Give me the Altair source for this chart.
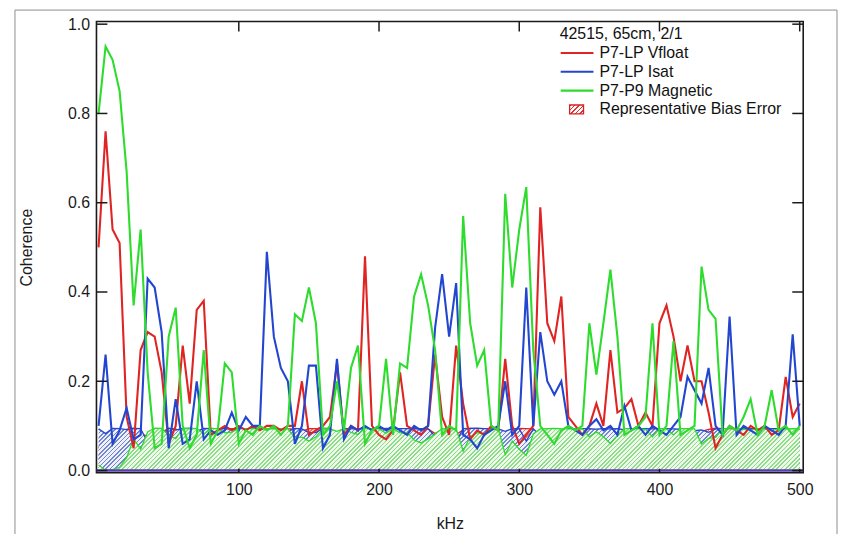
import altair as alt
import pandas as pd

# ---------------- data ----------------
freq_step = 5.0  # kHz spacing of the spectral estimates

red = [0.50, 0.76, 0.54, 0.51, 0.12, 0.05, 0.27, 0.31, 0.30, 0.22,
       0.06, 0.10, 0.28, 0.15, 0.36, 0.38, 0.08, 0.09, 0.10, 0.09,
       0.10, 0.09, 0.10, 0.09, 0.10, 0.10, 0.09, 0.10, 0.10, 0.20,
       0.08, 0.09, 0.10, 0.12, 0.24, 0.08, 0.10, 0.09, 0.48, 0.10,
       0.08, 0.07, 0.09, 0.22, 0.10, 0.09, 0.08, 0.10, 0.26, 0.12,
       0.08, 0.28, 0.15, 0.07, 0.09, 0.08, 0.10, 0.09, 0.25, 0.10,
       0.06, 0.08, 0.10, 0.59, 0.33, 0.29, 0.39, 0.12, 0.10, 0.08,
       0.10, 0.15, 0.10, 0.27, 0.13, 0.14, 0.16, 0.10, 0.13, 0.10,
       0.33, 0.37, 0.30, 0.20, 0.28, 0.20, 0.20, 0.13, 0.05, 0.08,
       0.10, 0.09, 0.08, 0.10, 0.09, 0.10, 0.08, 0.09, 0.21, 0.12, 0.15]

blue = [0.10, 0.26, 0.06, 0.09, 0.14, 0.07, 0.08, 0.43, 0.41, 0.31,
        0.05, 0.16, 0.06, 0.07, 0.20, 0.07, 0.09, 0.08, 0.09, 0.13,
        0.09, 0.12, 0.10, 0.10, 0.49, 0.30, 0.23, 0.20, 0.06, 0.10,
        0.235, 0.235, 0.05, 0.08, 0.25, 0.07, 0.10, 0.09, 0.10, 0.09,
        0.10, 0.09, 0.10, 0.09, 0.08, 0.10, 0.09, 0.10, 0.32, 0.44,
        0.30, 0.42, 0.08, 0.07, 0.05, 0.08, 0.09, 0.10, 0.20, 0.08,
        0.10, 0.41, 0.10, 0.31, 0.20, 0.17, 0.20, 0.10, 0.09, 0.08,
        0.10, 0.115, 0.09, 0.10, 0.08, 0.145, 0.09, 0.10, 0.08, 0.10,
        0.09, 0.08, 0.10, 0.12, 0.21, 0.18, 0.15, 0.23, 0.10, 0.08,
        0.345, 0.08, 0.10, 0.09, 0.08, 0.10, 0.09, 0.08, 0.10, 0.305, 0.10]

green = [0.80, 0.95, 0.92, 0.85, 0.67, 0.37, 0.54, 0.22, 0.05, 0.06,
         0.30, 0.365, 0.10, 0.05, 0.08, 0.27, 0.06, 0.09, 0.24, 0.22,
         0.06, 0.09, 0.08, 0.10, 0.09, 0.10, 0.08, 0.10, 0.35, 0.335,
         0.41, 0.33, 0.08, 0.10, 0.20, 0.09, 0.23, 0.28, 0.06, 0.09,
         0.10, 0.25, 0.08, 0.24, 0.23, 0.39, 0.44, 0.37, 0.27, 0.08,
         0.10, 0.09, 0.57, 0.33, 0.235, 0.27, 0.10, 0.09, 0.62, 0.41,
         0.54, 0.635, 0.27, 0.10, 0.08, 0.06, 0.09, 0.10, 0.09, 0.10,
         0.33, 0.215, 0.33, 0.45, 0.30, 0.08, 0.09, 0.10, 0.12, 0.33,
         0.08, 0.10, 0.29, 0.08, 0.09, 0.10, 0.457, 0.36, 0.34, 0.08,
         0.10, 0.09, 0.12, 0.16, 0.08, 0.10, 0.18, 0.09, 0.10, 0.08, 0.10]

freq = [freq_step * k for k in range(len(red))]

series_names = ["P7-LP Vfloat", "P7-LP Isat", "P7-P9 Magnetic"]
bias_label = "Representative Bias Error"
legend_title = "42515, 65cm, 2/1"
x_ticks = [100, 200, 300, 400, 500]
y_ticks = [0.0, 0.2, 0.4, 0.6, 0.8, 1.0]
n_ensembles = 10.5  # bias ~ (1 - coh^2)^2 / n

# ---------------- styling ----------------
W, H = 711, 454
FONT = "Liberation Sans"
line_colors = ["#e02424", "#2346d0", "#2ddc2d"]
hatch_colors = ["#e07a7a", "#7486cf", "#8ddc88"]
hatch_gaps = ["#fbeeee", "#eef0fa", "#eef9ec"]

df = pd.DataFrame({"f": freq, "red": red, "blue": blue, "green": green})
fields = ["red", "blue", "green"]

xs = alt.Scale(domain=[-1.5, 502.5], nice=False, zero=False)
ys = alt.Scale(domain=[-0.005, 1.006], nice=False, zero=False)


def hatch(color, gap, bw, bh, period=4.3, width=1.7):
    r = bh / bw
    s = (1 + r) / (1 + r * r)
    total = bw + bh
    stops = []
    pos = 0.0
    while pos < total:
        a = round(pos / total, 5)
        b = round(min((pos + width) / total, 1.0), 5)
        stops += [alt.GradientStop(color=gap, offset=a),
                  alt.GradientStop(color=color, offset=a),
                  alt.GradientStop(color=color, offset=b),
                  alt.GradientStop(color=gap, offset=b)]
        pos += period
    return alt.LinearGradient(gradient="linear", stops=stops,
                              x1=0, y1=0, x2=s, y2=s * r)


x_axis = alt.Axis(values=x_ticks, format="d", ticks=False, domain=False, grid=False,
                  labelFontSize=16, labelPadding=9, title="kHz", titleFontSize=16,
                  titleFontWeight="normal", titlePadding=18)
y_axis = alt.Axis(values=y_ticks, format=".1f", ticks=False, domain=False, grid=False,
                  labelFontSize=16, labelPadding=7, title="Coherence", titleFontSize=16,
                  titleFontWeight="normal", titlePadding=33)


def X(field):
    return alt.X(field, scale=xs, axis=x_axis)


def Y(field):
    return alt.Y(field, scale=ys, axis=y_axis)


base = alt.Chart(df)
layers = []

# hatched bias-error areas (red, blue, green on top)
area_bbox_w = (500 - 0) * W / 504.0
area_bbox_h = 0.0948 * H / 1.011
for i, fld in enumerate(fields):
    calc = base.transform_calculate(
        bias=f"pow(1 - datum.{fld} * datum.{fld}, 2) / {n_ensembles}"
    )
    a = calc.mark_area(
        color=hatch(hatch_colors[i], hatch_gaps[i], area_bbox_w, area_bbox_h),
        opacity=1, interpolate="linear"
    ).encode(x=X("f:Q"), y=Y("bias:Q"), y2=alt.datum(0))
    edge = calc.mark_line(color=line_colors[i], strokeWidth=1.3).encode(
        x=X("f:Q"), y=Y("bias:Q"))
    layers += [a, edge]

# baseline
layers.append(alt.Chart(pd.DataFrame({"z": [0.0]})).mark_rule(color="#5b3cae", strokeWidth=2.5)
              .encode(y=Y("z:Q")))

# coherence lines
for i, fld in enumerate(fields):
    layers.append(base.mark_line(color=line_colors[i], strokeWidth=2.1).encode(
        x=X("f:Q"), y=Y(f"{fld}:Q")))

# inward tick marks
yt = pd.DataFrame({"v": y_ticks})
xt = pd.DataFrame({"t": x_ticks})
tick_col = "#1a1a1a"
layers.append(alt.Chart(yt).mark_rule(color=tick_col, strokeWidth=1.5).encode(
    y=Y("v:Q"), x=alt.value(0), x2=alt.value(11)))
layers.append(alt.Chart(yt).mark_rule(color=tick_col, strokeWidth=1.5).encode(
    y=Y("v:Q"), x=alt.value(W - 11), x2=alt.value(W)))
layers.append(alt.Chart(xt).mark_rule(color=tick_col, strokeWidth=1.5).encode(
    x=X("t:Q"), y=alt.value(0), y2=alt.value(10)))
layers.append(alt.Chart(xt).mark_rule(color=tick_col, strokeWidth=1.5).encode(
    x=X("t:Q"), y=alt.value(H - 4), y2=alt.value(H)))

# legend (drawn inside the plot, top-right)
lx0, lx1, ltx = 467, 500, 506
rows_y = [31.7, 50.5, 69.5, 88.5]
layers.append(alt.Chart(pd.DataFrame({"label": [legend_title]})).mark_text(
    align="left", baseline="middle", fontSize=16, font=FONT, color="#111").encode(
    text="label:N", x=alt.value(lx0 - 1), y=alt.value(12.7)))
for i, name in enumerate(series_names):
    d = pd.DataFrame({"label": [name]})
    layers.append(alt.Chart(d).mark_rule(color=line_colors[i], strokeWidth=2.1).encode(
        x=alt.value(lx0), x2=alt.value(lx1), y=alt.value(rows_y[i])))
    layers.append(alt.Chart(d).mark_text(
        align="left", baseline="middle", fontSize=16, font=FONT, color="#111").encode(
        text="label:N", x=alt.value(ltx), y=alt.value(rows_y[i])))
dbias = pd.DataFrame({"label": [bias_label]})
layers.append(alt.Chart(dbias).mark_rect(
    color=hatch("#e03030", "#ffffff", 14, 9, period=4.5, width=1.6),
    stroke="#d82020", strokeWidth=1.3, opacity=1).encode(
    x=alt.value(476), x2=alt.value(490), y=alt.value(rows_y[3] - 4.5), y2=alt.value(rows_y[3] + 4.5)))
layers.append(alt.Chart(dbias).mark_text(
    align="left", baseline="middle", fontSize=16, font=FONT, color="#111").encode(
    text="label:N", x=alt.value(ltx), y=alt.value(rows_y[3])))

# outer grey border of the figure
layers.append(alt.Chart(pd.DataFrame({"b": [1]})).mark_rect(
    fillOpacity=0, stroke="#8c8c8c", strokeWidth=1).encode(
    x=alt.value(-82), x2=alt.value(745), y=alt.value(-11.5), y2=alt.value(540)))

chart = alt.layer(*layers).properties(
    width=W, height=H,
    autosize=alt.AutoSizeParams(type="none"),
    padding={"left": 89, "top": 12, "right": 35, "bottom": 60},
    background="white",
).configure_view(
    stroke="#1a1a1a", strokeWidth=1.6
).configure_axis(
    labelFont=FONT, titleFont=FONT, labelColor="#1a1a1a", titleColor="#1a1a1a"
)

chart.save("out.html", embed_options={"renderer": "svg", "actions": False})
